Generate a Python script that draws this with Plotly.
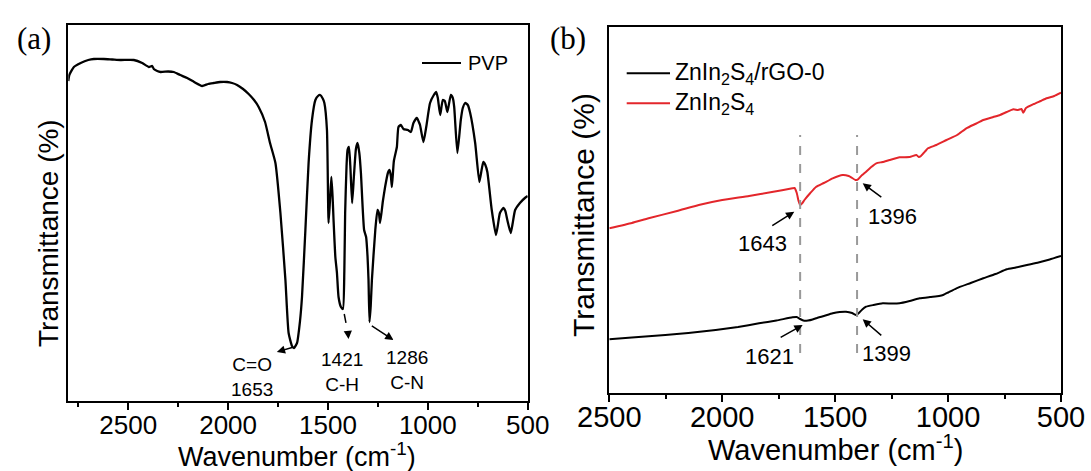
import plotly.graph_objects as go

# ---------------- data ----------------
# Panel (a): PVP FTIR spectrum (wavenumber, transmittance a.u.)
pvp_wn = [2800, 2795, 2772, 2738, 2700, 2672, 2622, 2580, 2538, 2472, 2430, 2397, 2380, 2372, 2355,
          2338, 2300, 2272, 2240, 2205, 2170, 2130, 2100, 2072, 2040, 2005, 1980, 1955, 1925, 1897,
          1870, 1847, 1815, 1790, 1763, 1738, 1713, 1697, 1680, 1670, 1655, 1640, 1630, 1613, 1597,
          1580, 1563, 1550, 1539, 1525, 1518, 1505, 1497, 1490, 1483, 1477, 1472, 1463, 1455, 1447,
          1435, 1425, 1418, 1414, 1407, 1402, 1395, 1388, 1379, 1370, 1360, 1352, 1343, 1335, 1319,
          1309, 1302, 1297, 1292, 1286, 1280, 1263, 1252, 1245, 1239, 1225, 1214, 1200, 1192, 1185,
          1180, 1170, 1155, 1147, 1135, 1122, 1100, 1085, 1072, 1055, 1045, 1039, 1022, 1008, 989,
          970, 958, 950, 938, 925, 915, 902, 885, 875, 868, 852, 835, 825, 813, 800,
          788, 763, 742, 730, 722, 712, 702, 680, 659, 650, 639, 622, 612, 602, 585,
          575, 563, 539, 514, 500]
pvp_t = [320, 326, 334, 338, 341, 342, 342, 341.5, 341, 341, 338, 334, 335, 332, 330,
         329, 329.5, 329, 326, 323, 319, 315, 317, 318, 319, 319, 318, 316, 312, 307,
         301, 294, 279, 258, 238, 188, 121, 68, 55, 53, 58, 80, 104, 171, 238,
         281, 301, 305, 306, 302, 298, 271, 178, 200, 224, 205, 181, 144, 128, 104,
         94, 92, 130, 188, 235, 251, 254, 235, 198, 225, 252, 258, 248, 228, 171,
         164, 145, 121, 79, 95, 121, 171, 191, 188, 178, 200, 214, 228, 231, 225,
         214, 240, 254, 274, 276, 272, 271, 269, 278, 283, 279, 276, 259, 274, 298,
         306, 309, 303, 286, 301, 300, 289, 306, 303, 294, 248, 281, 293, 298, 296,
         288, 258, 219, 232, 239, 236, 229, 191, 166, 175, 188, 193, 190, 181, 168,
         178, 191, 198, 203, 205]

# Panel (b): ZnIn2S4 (red) and ZnIn2S4/rGO-0 (black)
zis_wn = [2500, 2400, 2326, 2200, 2104, 2000, 1881, 1780, 1689, 1680, 1670, 1662, 1655, 1645, 1636,
          1610, 1585, 1550, 1511, 1467, 1440, 1429, 1410, 1399, 1385, 1363, 1340, 1318, 1290, 1259,
          1215, 1170, 1140, 1130, 1120, 1100, 1089, 1052, 1007, 960, 919, 880, 844, 800, 770,
          740, 711, 690, 675, 667, 655, 620, 590, 564, 530, 500]
zis_t = [164.7, 170, 174.7, 182, 188, 193, 197, 201, 204.7, 205, 200, 192, 188, 190, 193,
         200, 206, 210, 214.7, 218, 217, 215.7, 213, 213.7, 217, 221.3, 226, 229.7, 231, 233,
         235.7, 236, 238, 236, 237, 242, 244.7, 248, 253, 258, 264.7, 269, 273, 276, 278,
         281, 283.7, 283, 284, 280.3, 285, 289, 292, 294.7, 297, 300.3]

rgo_wn = [2500, 2400, 2252, 2150, 2029, 1930, 1837, 1760, 1689, 1670, 1655, 1637, 1620, 1600, 1585,
          1550, 1511, 1480, 1452, 1425, 1407, 1395, 1380, 1363, 1330, 1289, 1250, 1215, 1170, 1126,
          1080, 1040, 1022, 1000, 963, 900, 844, 790, 740, 700, 651, 600, 550, 500]
rgo_t = [53.7, 55.5, 58, 60, 63, 66, 69.7, 72.5, 75.7, 76, 74, 72.3, 72.5, 73.5, 74.7,
         77, 79.7, 81, 81.3, 80, 78, 80, 83.5, 86.3, 88, 89.7, 89.5, 89.7, 92, 94.7,
         96, 97, 98, 100.5, 104.7, 110, 114.7, 119, 123.7, 125.5, 128, 130.5, 133.5, 137]

x_ticks = [2500, 2000, 1500, 1000, 500]
peak_lines_b = [1655, 1403]

# ---------------- figure ----------------
W, H = 1091, 471
FONT = "Liberation Sans, Arial, sans-serif"
SERIF = "Liberation Serif, Times New Roman, serif"
RED = "#e3262b"


def px(x):
    return x / W


def py(y):
    return 1 - y / H


fig = go.Figure()
fig.add_trace(go.Scatter(x=pvp_wn, y=pvp_t, mode="lines", line=dict(color="black", width=2.3, shape="spline", smoothing=0.5),
                         xaxis="x", yaxis="y", showlegend=False, name="PVP"))
fig.add_trace(go.Scatter(x=rgo_wn, y=rgo_t, mode="lines", line=dict(color="black", width=2, shape="spline", smoothing=0.4),
                         xaxis="x2", yaxis="y2", showlegend=False, name="ZnIn2S4/rGO-0"))
fig.add_trace(go.Scatter(x=zis_wn, y=zis_t, mode="lines", line=dict(color=RED, width=2, shape="spline", smoothing=0.4),
                         xaxis="x2", yaxis="y2", showlegend=False, name="ZnIn2S4"))

ax_common = dict(showline=True, linecolor="black", linewidth=2, mirror=True, showgrid=False,
                 zeroline=False, automargin=False)

fig.update_layout(
    template="none",
    width=W, height=H,
    margin=dict(l=0, r=0, t=0, b=0, autoexpand=False),
    paper_bgcolor="white", plot_bgcolor="white",
    font=dict(family=FONT, color="black"),
    showlegend=False,
    xaxis=dict(domain=[px(68.3), px(527.7)], range=[2800, 500], anchor="y",
               tickvals=x_ticks, ticks="outside", ticklen=7, tickwidth=1.8, tickcolor="black",
               tickfont=dict(size=26, family=FONT), ticklabelstandoff=-7,
               minor=dict(dtick=250, ticks="outside", ticklen=4, tickwidth=1.5, tickcolor="black"),
               **ax_common),
    yaxis=dict(domain=[py(401), py(25)], range=[0, 376], anchor="x",
               showticklabels=False, ticks="", **ax_common),
    xaxis2=dict(domain=[px(609.3), px(1061)], range=[2500, 500], anchor="y2",
                tickvals=x_ticks, ticks="outside", ticklen=7, tickwidth=1.8, tickcolor="black",
                tickfont=dict(size=29, family=FONT), ticklabelstandoff=-10,
                minor=dict(dtick=250, ticks="outside", ticklen=4, tickwidth=1.5, tickcolor="black"),
                **ax_common),
    yaxis2=dict(domain=[py(393), py(26.7)], range=[0, 366.3], anchor="x2",
                showticklabels=False, ticks="", **ax_common),
)

ann = []
shapes = []


def label(text, x, y, size, xanchor="center", angle=0, family=FONT, xref="paper", yref="paper"):
    return dict(text=text, x=x, y=y, xref=xref, yref=yref, showarrow=False, xanchor=xanchor,
                yanchor="middle", textangle=angle, font=dict(size=size, family=family))


# Panel labels
ann.append(label("(a)", px(33.5), py(39), 31, family=SERIF))
ann.append(label("(b)", px(568), py(39), 31, family=SERIF))

# Axis titles
ann.append(label("Wavenumber (cm<sup>-1</sup>)", px(297), py(455), 27))
ann.append(label("Wavenumber (cm<sup>-1</sup>)", px(835), py(448), 29))
ann.append(label("Transmittance (%)", px(48), py(233), 28, angle=-90))
ann.append(label("Transmittance (%)", px(583), py(215), 30, angle=-90))

# Legend (a)
shapes.append(dict(type="line", xref="paper", yref="paper", x0=px(422), x1=px(461), y0=py(63), y1=py(63),
                   line=dict(color="black", width=2)))
ann.append(label("PVP", px(466), py(63), 20, xanchor="left"))
# Legend (b)
shapes.append(dict(type="line", xref="paper", yref="paper", x0=px(626.7), x1=px(670), y0=py(73.3), y1=py(73.3),
                   line=dict(color="black", width=2)))
ann.append(label("ZnIn<sub>2</sub>S<sub>4</sub>/rGO-0", px(673), py(74), 23, xanchor="left"))
shapes.append(dict(type="line", xref="paper", yref="paper", x0=px(626.7), x1=px(670), y0=py(103.3), y1=py(103.3),
                   line=dict(color=RED, width=2)))
ann.append(label("ZnIn<sub>2</sub>S<sub>4</sub>", px(673), py(104), 23, xanchor="left"))


def arrow(xh, yh, xt, yt, xr="x", yr="y"):
    return dict(x=xh, y=yh, ax=xt, ay=yt, xref=xr, yref=yr, axref=xr, ayref=yr, text="",
                showarrow=True, arrowhead=2, arrowsize=1.1, arrowwidth=1.5, arrowcolor="black")


# Panel (a) annotations
ann.append(label("C=O<br>1653", 1878, 24, 19, xref="x", yref="y"))
ann.append(label("1421<br>C-H", 1428, 29.5, 19, xref="x", yref="y"))
ann.append(label("1286<br>C-N", 1106, 31, 19, xref="x", yref="y"))
ann.append(arrow(1756, 49, 1672, 54))
shapes.append(dict(type="line", xref="x", yref="y", x0=1418.5, y0=87, x1=1400, y1=68,
                   line=dict(color="black", width=1.5, dash="dash")))
ann.append(arrow(1397, 62, 1400, 69))
ann.append(arrow(1172, 61, 1288, 76))

# Panel (b) annotations
for xv in peak_lines_b:
    shapes.append(dict(type="line", xref="x2", yref="y2", x0=xv, x1=xv, y0=40, y1=258,
                       line=dict(color="#999999", width=2, dash="dash")))
ann.append(label("1643", 1822, 149.7, 22, xref="x2", yref="y2"))
ann.append(arrow(1681, 181.3, 1785, 166.3, "x2", "y2"))
ann.append(label("1396", 1244, 176.3, 22, xref="x2", yref="y2"))
ann.append(arrow(1378, 209.7, 1289, 194.7, "x2", "y2"))
ann.append(label("1621", 1792, 36.3, 22, xref="x2", yref="y2"))
ann.append(arrow(1644, 68, 1748, 54.7, "x2", "y2"))
ann.append(label("1399", 1274, 39.7, 22, xref="x2", yref="y2"))
ann.append(arrow(1378, 73.7, 1289, 56.3, "x2", "y2"))

fig.update_layout(annotations=ann, shapes=shapes)
fig.write_html("out.html", config={"displayModeBar": False},
               post_script="document.body.style.margin='0px';document.body.style.overflow='hidden';")
